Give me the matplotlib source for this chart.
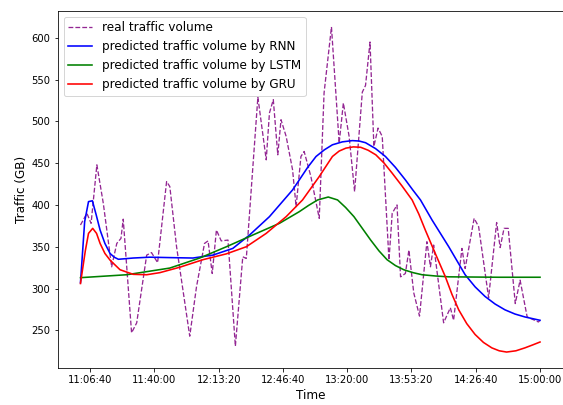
import matplotlib
matplotlib.use('Agg')
import matplotlib.pyplot as plt
from matplotlib.ticker import FuncFormatter

# time in seconds of the day, traffic in GB
real_t = [39700, 39900, 40030, 40210, 40410, 40670, 40830, 40960, 41030, 41290,
          41450, 41760, 41910, 42100, 42380, 42480, 42690, 43100, 43310, 43560,
          43670, 43800, 43930, 44080, 44290, 44520, 44750, 44860, 45220, 45480,
          45580, 45700, 45840, 45940, 46100, 46300, 46410, 46560, 46660, 46870,
          47130, 47280, 47510, 47750, 47880, 48060, 48230, 48470, 48570, 48710,
          48830, 48960, 49090, 49300, 49400, 49550, 49660, 49810, 49920, 50070,
          50250, 50480, 50590, 50690, 51000, 51210, 51310, 51570, 51670, 51950,
          52090, 52400, 52650, 52760, 52880, 53010, 53230, 53380, 53600, 53950,
          54000]
real_v = [376, 390, 378, 448, 402, 326, 354, 360, 383, 247,
          259, 340, 343, 331, 428, 422, 350, 243, 302, 354,
          357, 318, 370, 357, 358, 231, 338, 336, 529, 454,
          510, 526, 460, 502, 482, 442, 398, 458, 464, 434,
          384, 534, 613, 474, 522, 482, 416, 535, 543, 595,
          470, 492, 482, 334, 390, 400, 314, 318, 346, 295,
          267, 356, 326, 352, 259, 277, 262, 348, 324, 384,
          374, 289, 379, 349, 372, 372, 282, 310, 266, 260,
          262]

rnn_t = [39700, 39830, 39950, 40070, 40190, 40310, 40460, 40620, 40750, 40880,
         41340, 41860, 42480, 43200, 43820, 44440, 44960, 45580, 46300, 46510,
         46770, 47030, 47290, 47540, 47850, 48160, 48370, 48570, 48880, 49190,
         49500, 49810, 50040, 50280, 50640, 51160, 51670, 51980, 52290, 52600,
         52910, 53220, 53530, 54000]
rnn_v = [307, 380, 404, 405, 388, 370, 354, 342, 337.5, 335,
         336.5, 337.5, 337, 336.5, 340, 348, 364, 386, 418, 430,
         445, 458, 466, 472, 475.5, 477, 476.5, 474.5, 467.5, 458,
         445, 430, 418, 406, 382, 350, 316.5, 302, 290.5, 281.5,
         274.5, 269.5, 266, 262]

lstm_t = [39700, 41140, 42480, 43410, 44240, 45060, 45890, 46510, 46800, 47080,
          47410, 47700, 47950, 48210, 48470, 48730, 48990, 49240, 49500, 49760,
          50050, 50330, 50750, 51160, 52710, 54000]
lstm_v = [313, 316.5, 324.5, 336.5, 350, 364, 378, 392, 399.5, 406,
          409.5, 406, 397, 386, 372, 358, 345, 334.5, 327.5, 322.5,
          319, 316.5, 315, 314, 313.5, 313.5]

gru_t = [39700, 39850, 39950, 40080, 40200, 40310, 40460, 40620, 40930, 41340,
         41760, 42170, 42790, 43510, 44240, 44860, 45480, 46100, 46610, 47130,
         47540, 47750, 47960, 48190, 48420, 48650, 48890, 49150, 49400, 49700,
         50020, 50230, 50430, 50740, 51050, 51260, 51470, 51720, 51980, 52240,
         52500, 52730, 52960, 53250, 53530, 53770, 54000]
gru_v = [306, 345, 366, 372, 366, 354, 342, 334, 322.5, 317,
         316.5, 319, 325.5, 334.5, 341.5, 350, 366, 386, 406, 434,
         458, 464.5, 468, 469.5, 469, 465.5, 460, 450, 438, 423,
         406, 389, 370, 342, 314.5, 293, 274.5, 258, 245, 235.5,
         229, 225.5, 224, 225.5, 229, 232.5, 236]


def hms(x, pos=None):
    x = int(round(x))
    return '%02d:%02d:%02d' % (x // 3600, x % 3600 // 60, x % 60)


fig = plt.figure(figsize=(563 / 72, 405 / 72), dpi=72)
ax = fig.add_axes([57.5 / 563, 1 - 368.3 / 405, 505.5 / 563, 357.6 / 405])

ax.plot(real_t, real_v, '--', color='purple', linewidth=1.3, alpha=0.85,
        label='real traffic volume')
ax.plot(rnn_t, rnn_v, color='b', linewidth=1.6, label='predicted traffic volume by RNN')
ax.plot(lstm_t, lstm_v, color='g', linewidth=1.6, label='predicted traffic volume by LSTM')
ax.plot(gru_t, gru_v, color='r', linewidth=1.6, label='predicted traffic volume by GRU')

ax.xaxis.set_major_formatter(FuncFormatter(hms))
ax.set_xlabel('Time', fontsize=12)
ax.set_ylabel('Traffic (GB)', fontsize=12)
ax.legend(loc='upper left', fontsize=12)

fig.savefig('out.png', dpi=72)
